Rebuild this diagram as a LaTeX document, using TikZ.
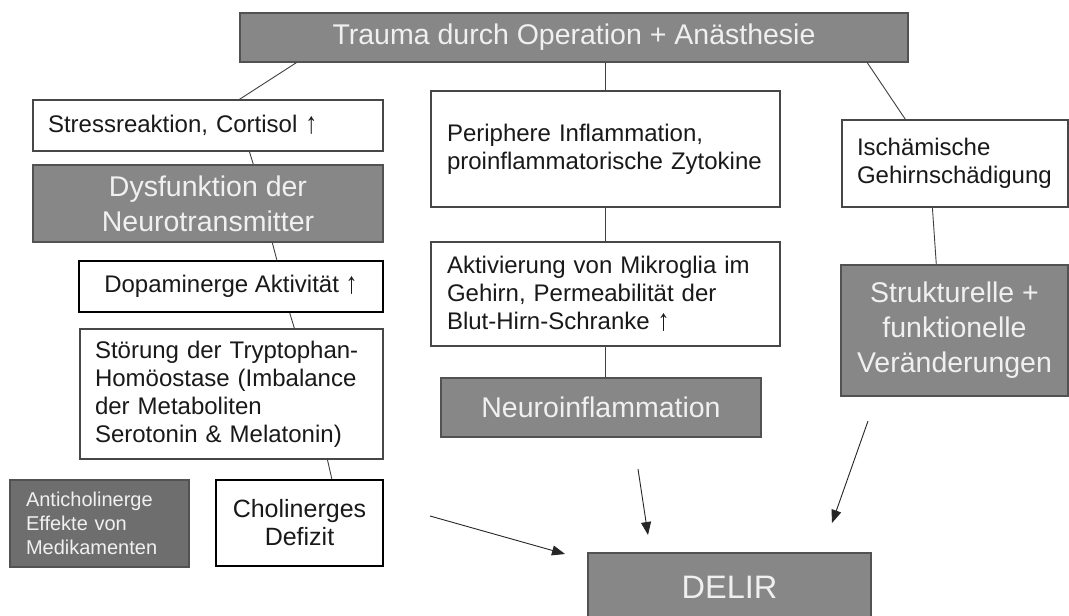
\documentclass[tikz,border=0pt]{standalone}
\usepackage{fontspec}
\setmainfont{Liberation Sans}
\usepackage{tikz}
\usetikzlibrary{arrows.meta}

\newcommand{\hoch}{\raisebox{-1pt}{\scalebox{1}[1.25]{↑}}}

\begin{document}
\begin{tikzpicture}[x=1pt, y=-1pt,
		graubox/.style={draw=black!68, line width=1.4pt, fill=black!47, text=white!94!black, align=center, inner sep=0pt, font=\fontsize{28.5}{35}\selectfont},
		weissbox/.style={draw=black!72, line width=1.2pt, fill=white, text=black!90, inner sep=0pt, font=\fontsize{24}{28}\selectfont},
		linksbox/.style={weissbox, align=left, inner xsep=15pt},
		dickbox/.style={weissbox, draw=black, line width=2.4pt, align=center},
		linie/.style={draw=black!75, line width=0.9pt},
		pfeil/.style={draw=black!85, line width=0.9pt, -{Triangle[length=13pt, width=10pt]}}
		]
		\useasboundingbox[fill=white] (0,0) rectangle (1069,616);

		\node[graubox, minimum width=668, minimum height=49](trauma) at (574,37.5){Trauma durch Operation + Anästhesie};

		\node[linksbox, text width=320, minimum height=51](stress) at (208,125.5){Stressreaktion, Cortisol \hoch};
		\node[graubox, minimum width=350, minimum height=77](dysf) at (208,203.5){Dysfunktion der\\Neurotransmitter};
		\node[dickbox, minimum width=304, minimum height=51](dopa) at (231,286.5){Dopaminerge Aktivität \hoch};
		\node[linksbox, text width=273, minimum height=130](trypto) at (231.5,394){Störung der Tryptophan-\\Homöostase (Imbalance\\der Metaboliten\\Serotonin \& Melatonin)};
		\node[dickbox, minimum width=167, minimum height=86, font=\fontsize{25}{28}\selectfont](cholin) at (299.5,523){Cholinerges\\Defizit};
		\node[graubox, fill=black!57, align=left, text width=147, inner xsep=16pt, minimum height=87, font=\fontsize{20}{24}\selectfont](anti) at (99.5,523.5){Anticholinerge\\Effekte von\\Medikamenten};

		\node[linksbox, inner xsep=16pt, text width=317, minimum height=116](peri) at (605.5,149){Periphere Inflammation,\\proinflammatorische Zytokine};
		\node[linksbox, inner xsep=16pt, text width=317, minimum height=104](mikro) at (605.5,294){Aktivierung von Mikroglia im\\Gehirn, Permeabilität der\\Blut-Hirn-Schranke \hoch};
		\node[graubox, minimum width=320, minimum height=59](neuro) at (601,407.5){Neuroinflammation};

		\node[linksbox, text width=196, minimum height=87](isch) at (955,163.5){Ischämische\\Gehirnschädigung};
		\node[graubox, minimum width=227, minimum height=131](struk) at (954.5,330.5){Strukturelle +\\funktionelle\\Veränderungen};

		\node[graubox, minimum width=283, minimum height=68, font=\fontsize{32.5}{36}\selectfont](delir) at (729.5,587){DELIR};

		\draw[linie] ([xshift=57pt]trauma.south west) -- ([xshift=207pt]stress.north west);
		\draw[linie] (peri.north) -- (peri.north |- trauma.south);
		\draw[linie] ([xshift=628pt]trauma.south west) -- ([xshift=64pt]isch.north west);
		\draw[linie] ([xshift=217pt]stress.south west) -- ([xshift=221pt]dysf.north west);
		\draw[linie] ([xshift=240pt]dysf.south west) -- ([xshift=199pt]dopa.north west);
		\draw[linie] ([xshift=212pt]dopa.south west) -- ([xshift=215pt]trypto.north west);
		\draw[linie] ([xshift=248pt]trypto.south west) -- ([xshift=117pt]cholin.north west);
		\draw[linie] (peri.south) -- (mikro.north);
		\draw[linie] (mikro.south) -- (mikro.south |- neuro.north);
		\draw[linie] ([xshift=91pt]isch.south west) -- ([xshift=96pt]struk.north west);

		\coordinate (p1) at (430,516);
		\coordinate (q1) at (565,554);
		\coordinate (p2) at (638,469);
		\coordinate (q2) at (648,535);
		\coordinate (p3) at (868,421);
		\coordinate (q3) at (832,523);
		\draw[pfeil] (p1) -- (q1);
		\draw[pfeil] (p2) -- (q2);
		\draw[pfeil] (p3) -- (q3);
\end{tikzpicture}
\end{document}
